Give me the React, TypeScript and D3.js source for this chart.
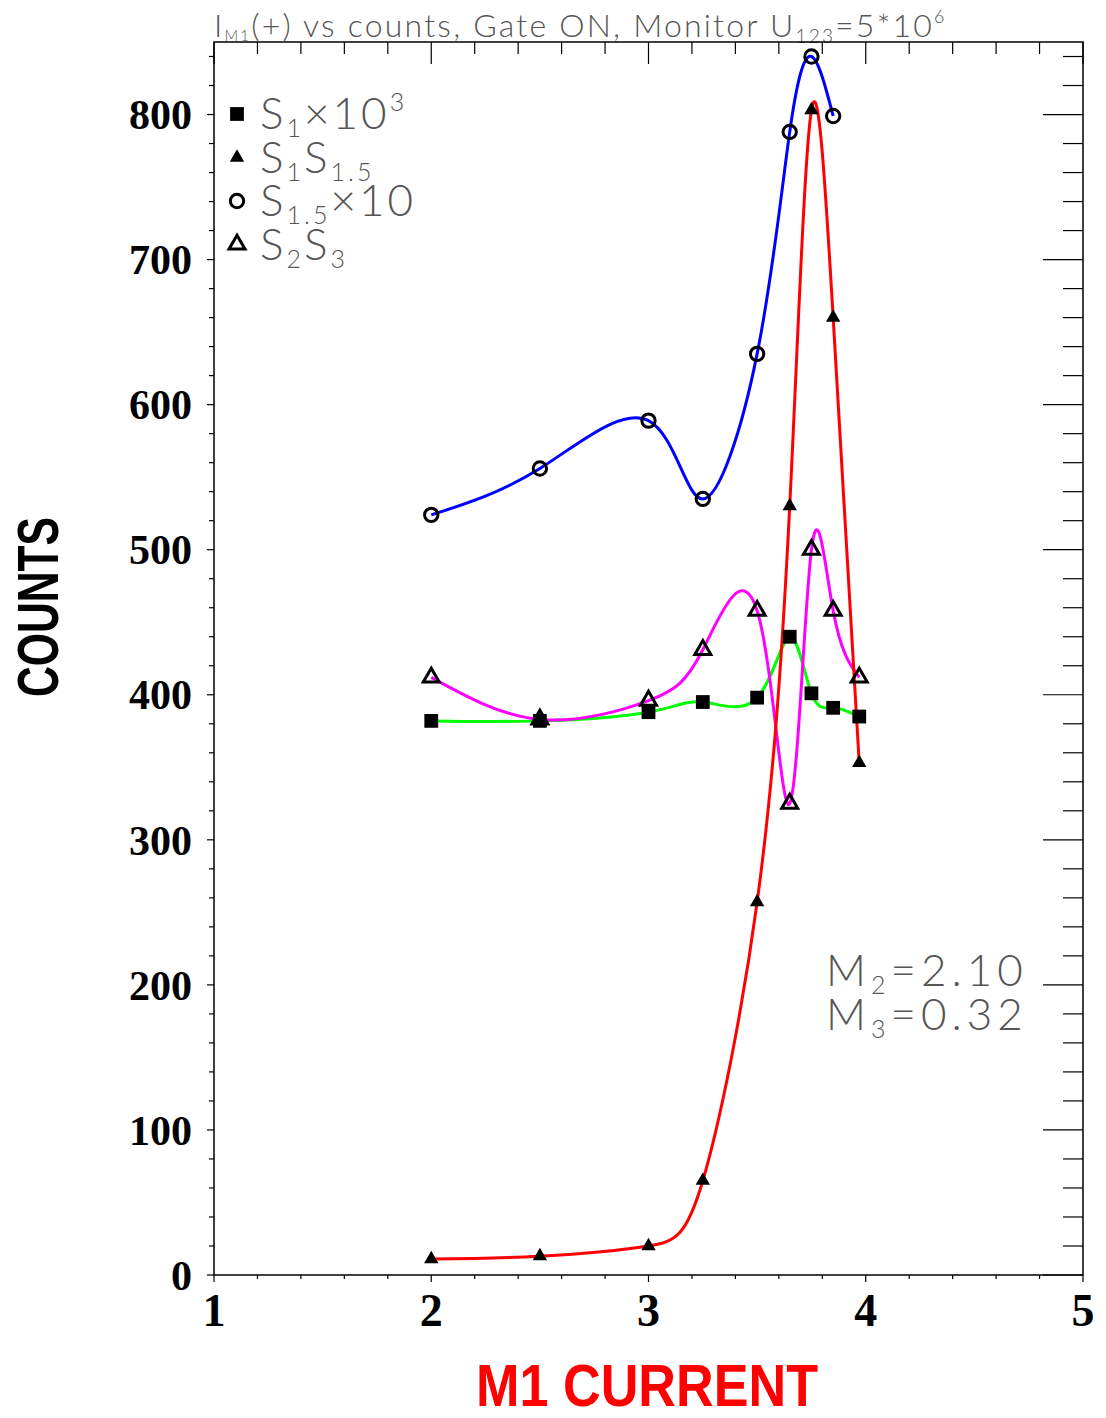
import React from "react";
import * as d3 from "d3";

// M1 current settings (x) shared by all series
const currents = [2, 2.5, 3, 3.25, 3.5, 3.65, 3.75, 3.85, 3.97];

// series values
const s1x1e3 = [382, 382, 388, 395, 398, 440, 401, 391, 385];
const s1s15 = [11, 13, 20, 65, 257, 530, 803, 660, 353];
const s15x10 = [524, 556, 589, 535, 635, 788, 840, 799];
const s2s3 = [412, 383, 396, 431, 458, 325, 500, 458, 412];

const xTicks = [1, 2, 3, 4, 5];
const yTicks = [0, 100, 200, 300, 400, 500, 600, 700, 800];

const W = 1106;
const H = 1418;
const plot = { left: 214, right: 1083, top: 42, bottom: 1275 };

const thinFont = "Lato, 'DejaVu Sans', sans-serif";
const thinColor = "#555";
const serifFont = "'Liberation Serif', 'Times New Roman', serif";
const boldSans = "'Liberation Sans', Arial, sans-serif";

function App() {
  const x = d3.scaleLinear().domain([1, 5]).range([plot.left, plot.right]);
  const y = d3.scaleLinear().domain([0, 850]).range([plot.bottom, plot.top]);

  const line = d3
    .line<[number, number]>()
    .x((d) => x(d[0]))
    .y((d) => y(d[1]))
    .curve(d3.curveNatural);

  const pts = (vals: number[]) => vals.map((v, i) => [currents[i], v] as [number, number]);

  const square = d3.symbol(d3.symbolSquare, 190)();
  const triFilled = d3.symbol(d3.symbolTriangle, 90)();
  const triOpen = d3.symbol(d3.symbolTriangle, 110)();
  const circle = d3.symbol(d3.symbolCircle, 140)();

  const series = [
    { vals: s1x1e3, color: "#00ff00", marker: square, fill: "#000", stroke: "none" },
    { vals: s15x10, color: "#0000ff", marker: circle, fill: "none", stroke: "#000" },
    { vals: s2s3, color: "#ff00ff", marker: triOpen, fill: "none", stroke: "#000" },
    { vals: s1s15, color: "#ff0000", marker: triFilled, fill: "#000", stroke: "none" },
  ];

  // tick positions
  const fine = d3.range(1, 5.001, 0.2);
  const yFine = d3.range(0, 841, 20);

  const legend = [
    { marker: square, fill: "#000", stroke: "none", main: "S", sub: "1", rest: "×10", sup: "3" },
    { marker: triFilled, fill: "#000", stroke: "none", main: "S", sub: "1", rest: "S", sub2: "1.5" },
    { marker: circle, fill: "none", stroke: "#000", main: "S", sub: "1.5", rest: "×10" },
    { marker: triOpen, fill: "none", stroke: "#000", main: "S", sub: "2", rest: "S", sub2: "3" },
  ];

  return (
    <svg
      width={W}
      height={H}
      style={{ position: "absolute", left: 0, top: 0, background: "#fff" }}
    >
      <rect x={0} y={0} width={W} height={H} fill="#fff" />

      {/* title */}
      <text
        x={plot.left}
        y={37}
        fontFamily={thinFont}
        fontWeight={300}
        fontSize={32}
        letterSpacing={2.2}
        fill={thinColor}
      >
        I
        <tspan fontSize={15} dy={4}>M1</tspan>
        <tspan dy={-4}>(+) vs counts, Gate ON, Monitor U</tspan>
        <tspan fontSize={19} dy={6}>123</tspan>
        <tspan dy={-6}>=5*10</tspan>
        <tspan fontSize={18} dy={-14}>6</tspan>
      </text>

      {/* frame */}
      <rect
        x={plot.left}
        y={plot.top}
        width={plot.right - plot.left}
        height={plot.bottom - plot.top}
        fill="none"
        stroke="#000"
        strokeWidth={1.5}
      />

      {/* top ticks (inward) */}
      {fine.map((t, i) => (
        <line
          key={"tt" + i}
          x1={x(t)}
          x2={x(t)}
          y1={plot.top}
          y2={plot.top + (Math.abs(t - Math.round(t)) < 1e-6 ? 22 : 12)}
          stroke="#000"
          strokeWidth={1.2}
        />
      ))}
      {/* bottom ticks (outward) */}
      {fine.map((t, i) => (
        <line
          key={"bt" + i}
          x1={x(t)}
          x2={x(t)}
          y1={plot.bottom}
          y2={plot.bottom + (Math.abs(t - Math.round(t)) < 1e-6 ? 7 : 4)}
          stroke="#000"
          strokeWidth={1.2}
        />
      ))}
      {/* left ticks (outward) */}
      {yFine.map((t, i) => (
        <line
          key={"lt" + i}
          x1={plot.left}
          x2={plot.left - (t % 100 === 0 ? 7 : 5)}
          y1={y(t)}
          y2={y(t)}
          stroke="#000"
          strokeWidth={1.2}
        />
      ))}
      {/* right ticks (inward) */}
      {yFine.map((t, i) => (
        <line
          key={"rt" + i}
          x1={plot.right}
          x2={plot.right - (t % 100 === 0 ? 40 : 20)}
          y1={y(t)}
          y2={y(t)}
          stroke="#000"
          strokeWidth={1.2}
        />
      ))}

      {/* y tick labels */}
      {yTicks.map((t) => (
        <text
          key={"yl" + t}
          x={192}
          y={y(t)}
          dy="0.35em"
          textAnchor="end"
          fontFamily={serifFont}
          fontWeight="bold"
          fontSize={42}
          fill="#000"
        >
          {t}
        </text>
      ))}
      {/* x tick labels */}
      {xTicks.map((t) => (
        <text
          key={"xl" + t}
          x={x(t)}
          y={1326}
          textAnchor="middle"
          fontFamily={serifFont}
          fontWeight="bold"
          fontSize={46}
          fill="#000"
        >
          {t}
        </text>
      ))}

      {/* curves */}
      {series.map((s, i) => (
        <path key={"c" + i} d={line(pts(s.vals)) || ""} fill="none" stroke={s.color} strokeWidth={3} />
      ))}
      {/* markers */}
      {series.map((s, i) =>
        s.vals.map((v, j) => (
          <path
            key={"m" + i + "-" + j}
            d={s.marker || ""}
            transform={`translate(${x(currents[j])},${y(v)})`}
            fill={s.fill}
            stroke={s.stroke}
            strokeWidth={3}
          />
        ))
      )}

      {/* legend */}
      {legend.map((l, i) => {
        const cy = 114 + i * 43.5;
        return (
          <g key={"lg" + i}>
            <path
              d={l.marker || ""}
              transform={`translate(237,${cy})`}
              fill={l.fill}
              stroke={l.stroke}
              strokeWidth={3}
            />
            <text
              x={260}
              y={cy + 15}
              fontFamily={thinFont}
              fontWeight={300}
              fontSize={44}
              letterSpacing={3}
              fill={thinColor}
            >
              {l.main}
              <tspan fontSize={25} dy={8}>{l.sub}</tspan>
              <tspan dy={-8}>{l.rest}</tspan>
              {l.sup ? (
                <tspan fontSize={25} dy={-18}>{l.sup}</tspan>
              ) : null}
              {l.sub2 ? (
                <tspan fontSize={25} dy={8}>{l.sub2}</tspan>
              ) : null}
            </text>
          </g>
        );
      })}

      {/* annotation */}
      <text
        x={826}
        y={986}
        fontFamily={thinFont}
        fontWeight={300}
        fontSize={44}
        letterSpacing={5}
        fill={thinColor}
      >
        M<tspan fontSize={25} dy={8}>2</tspan>
        <tspan dy={-8}>=2.10</tspan>
      </text>
      <text
        x={826}
        y={1030}
        fontFamily={thinFont}
        fontWeight={300}
        fontSize={44}
        letterSpacing={5}
        fill={thinColor}
      >
        M<tspan fontSize={25} dy={8}>3</tspan>
        <tspan dy={-8}>=0.32</tspan>
      </text>

      {/* axis titles */}
      <text
        transform="translate(58,607) rotate(-90)"
        textAnchor="middle"
        fontFamily={boldSans}
        fontWeight="bold"
        fontSize={58}
        textLength={180}
        lengthAdjust="spacingAndGlyphs"
        fill="#000"
      >
        COUNTS
      </text>
      <text
        x={647}
        y={1406}
        textAnchor="middle"
        fontFamily={boldSans}
        fontWeight="bold"
        fontSize={60}
        textLength={342}
        lengthAdjust="spacingAndGlyphs"
        fill="#ff0000"
      >
        M1 CURRENT
      </text>
    </svg>
  );
}

export default App;
